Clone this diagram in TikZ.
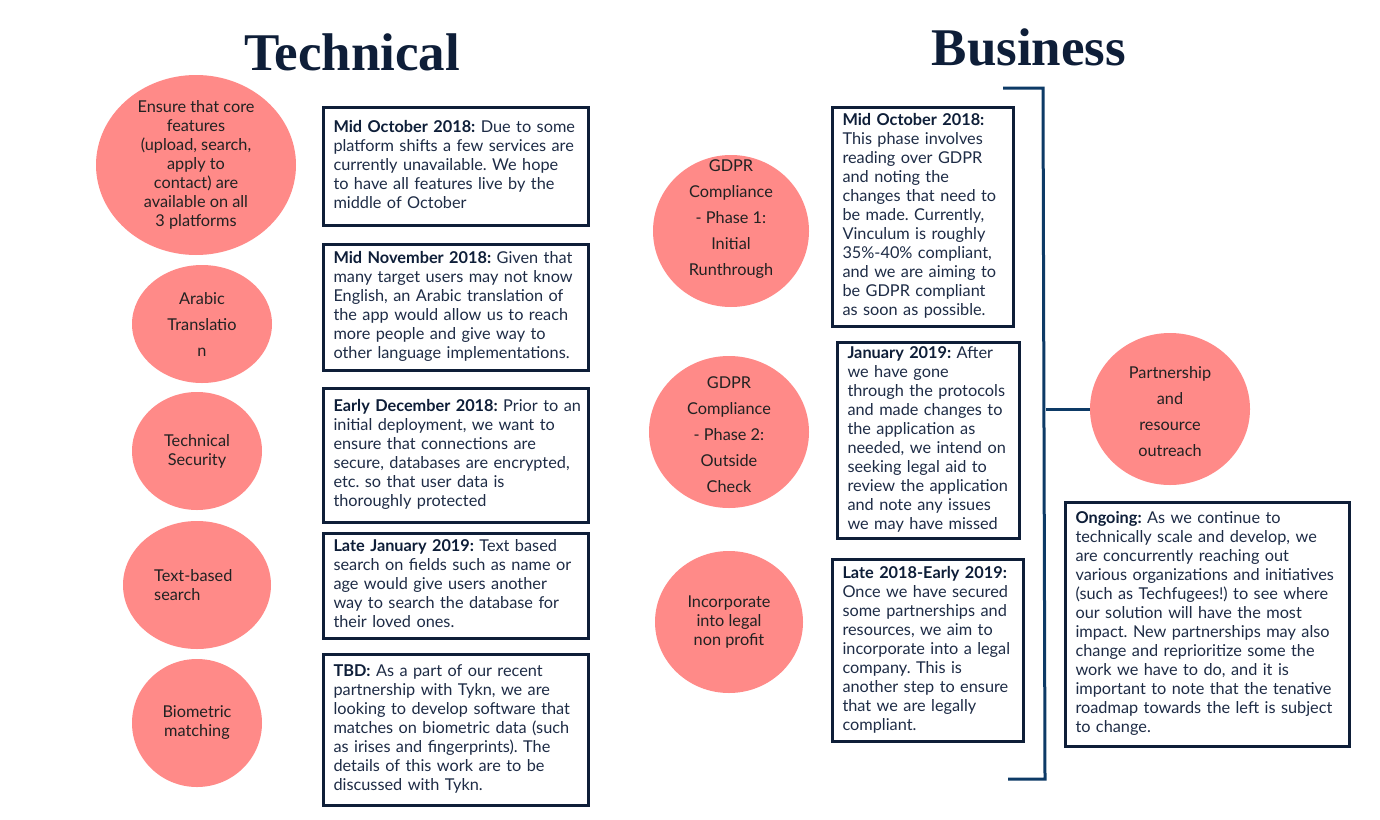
\documentclass[tikz,border=0pt]{standalone}
\usepackage{fontspec}
\setmainfont{Lato}
\newfontfamily\titlefont{Liberation Serif}
\usetikzlibrary{shapes.geometric,calc}
\frenchspacing

\definecolor{navy}{HTML}{0E1E38}
\definecolor{bracketblue}{HTML}{0D3A66}
\definecolor{blobfill}{HTML}{FF8A88}
\definecolor{bodyink}{HTML}{1E2C46}
\definecolor{blobink}{HTML}{222222}

\tikzset{
  blob/.style={ellipse, fill=blobfill, inner sep=0pt},
  blobtext/.style={align=center, text=blobink, inner sep=0pt,
    font=\frenchspacing\fontsize{16.3}{19}\selectfont},
  blobtextwide/.style={blobtext, font=\frenchspacing\fontsize{16.3}{26}\selectfont},
  card/.style={draw=navy, line width=3pt, anchor=north west,
    inner xsep=10pt, inner ysep=0pt, align=left, text=bodyink,
    font=\frenchspacing\fontsize{16.3}{19}\selectfont},
  heading/.style={text=navy, inner sep=0pt, anchor=base,
    font=\titlefont\bfseries\fontsize{53}{53}\selectfont},
  rail/.style={draw=bracketblue, line width=3pt},
}
\newcommand{\lead}[1]{{\bfseries\color{navy}#1}}
% set card text line by line, never re-wrapped
\newcommand{\cardlines}[1]{\begin{tabular}{@{}l@{}}#1\end{tabular}}

\begin{document}
\begin{tikzpicture}[x=1pt,y=-1pt]
\useasboundingbox[fill=white] (0,0) rectangle (1380,819);

% headings
\node[heading] (htech) at (352,70) {Technical};
\node[heading] (hbus) at (1029,65) {Business};

% ---- technical track: goals ----
\node[blob, minimum width=200pt, minimum height=180pt] (c1) at (196,165) {};
\node[blobtext] (c1t) at (c1) {Ensure that core\\features\\(upload, search,\\apply to\\contact) are\\available on all\\3 platforms};

\node[blob, minimum width=140pt, minimum height=118pt] (c2) at (202,324) {};
\node[blobtextwide] (c2t) at (c2) {Arabic\\Translatio\\n};

\node[blob, minimum width=130pt, minimum height=118pt] (c3) at (197,451) {};
\node[blobtext] (c3t) at (c3) {Technical\\Security};

\node[blob, minimum width=148pt, minimum height=128pt] (c4) at (197,585) {};
\node[blobtext, align=left, anchor=west] (c4t) at (154,585) {Text-based\\search};

\node[blob, minimum width=130pt, minimum height=128pt] (c5) at (197,723) {};
\node[blobtext] (c5t) at (c5) {Biometric\\matching};

% ---- technical track: timeline cards ----
\node[card, minimum width=265pt, text width=245pt, minimum height=118pt] (t1) at (322,106)
 {\cardlines{\lead{Mid October 2018:} Due to some\\platform shifts a few services are\\currently unavailable. We hope\\to have all features live by the\\middle of October}};

\node[card, minimum width=265pt, text width=245pt, minimum height=126pt] (t2) at (322,243)
 {\cardlines{\lead{Mid November 2018:} Given that\\many target users may not know\\English, an Arabic translation of\\the app would allow us to reach\\more people and give way to\\other language implementations.}};

\node[card, minimum width=265pt, text width=245pt, minimum height=134pt] (t3) at (322,387)
 {\cardlines{\lead{Early December 2018:} Prior to an\\initial deployment, we want to\\ensure that connections are\\secure, databases are encrypted,\\etc. so that user data is\\thoroughly protected}};

\node[card, minimum width=265pt, text width=245pt, minimum height=105pt] (t4) at (322,532)
 {\cardlines{\lead{Late January 2019:} Text based\\search on fields such as name or\\age would give users another\\way to search the database for\\their loved ones.}};

\node[card, minimum width=265pt, text width=245pt, minimum height=151pt] (t5) at (322,653)
 {\cardlines{\lead{TBD:} As a part of our recent\\partnership with Tykn, we are\\looking to develop software that\\matches on biometric data (such\\as irises and fingerprints). The\\details of this work are to be\\discussed with Tykn.}};

% ---- business track: goals ----
\node[blob, minimum width=156pt, minimum height=152pt] (g1) at (731,231) {};
\node[blobtextwide] (g1t) at ($(g1)+(0,-12)$) {GDPR\\Compliance\\- Phase 1:\\Initial\\Runthrough};

\node[blob, minimum width=160pt, minimum height=152pt] (g2) at (729,432) {};
\node[blobtextwide] (g2t) at ($(g2)+(0,3)$) {GDPR\\Compliance\\- Phase 2:\\Outside\\Check};

\node[blob, minimum width=148pt, minimum height=142pt] (g3) at (729,622) {};
\node[blobtext] (g3t) at (g3) {Incorporate\\into legal\\non profit};

% ---- business track: timeline cards ----
\node[card, minimum width=181pt, text width=161pt, minimum height=219pt] (b1) at (831,106)
 {\cardlines{\lead{Mid October 2018:}\\This phase involves\\reading over GDPR\\and noting the\\changes that need to\\be made. Currently,\\Vinculum is roughly\\35\%-40\% compliant,\\and we are aiming to\\be GDPR compliant\\as soon as possible.}};

\node[card, minimum width=182pt, text width=162pt, minimum height=196pt] (b2) at (836,341)
 {\cardlines{\lead{January 2019:} After\\we have gone\\through the protocols\\and made changes to\\the application as\\needed, we intend on\\seeking legal aid to\\review the application\\and note any issues\\we may have missed}};

\node[card, minimum width=191pt, text width=171pt, minimum height=182pt] (b3) at (831,558)
 {\cardlines{\lead{Late 2018-Early 2019:}\\Once we have secured\\some partnerships and\\resources, we aim to\\incorporate into a legal\\company. This is\\another step to ensure\\that we are legally\\compliant.}};

% ---- bracket grouping the business track ----
\coordinate (brtop) at (1003,88);
\coordinate (brtopr) at (1043,88);
\coordinate (brbotr) at (1045,779);
\coordinate (brbot) at (1008,779);
\draw[rail] (brtop) -- (brtopr) -- (brbotr) -- (brbot);

% ---- ongoing partnership goal ----
\node[blob, minimum width=160pt, minimum height=152pt] (p) at (1170,409) {};
\node[blobtextwide] (pt) at ($(p)+(0,3)$) {Partnership\\and\\resource\\outreach};
\coordinate (brjoin) at (1046,409);
\draw[rail] (brjoin) -- (p.west);

\node[card, minimum width=284pt, text width=264pt, minimum height=244pt] (og) at (1064,501)
 {\cardlines{\lead{Ongoing:} As we continue to\\technically scale and develop, we\\are concurrently reaching out\\various organizations and initiatives\\(such as Techfugees!) to see where\\our solution will have the most\\impact. New partnerships may also\\change and reprioritize some the\\work we have to do, and it is\\important to note that the tenative\\roadmap towards the left is subject\\to change.}};
\end{tikzpicture}
\end{document}
